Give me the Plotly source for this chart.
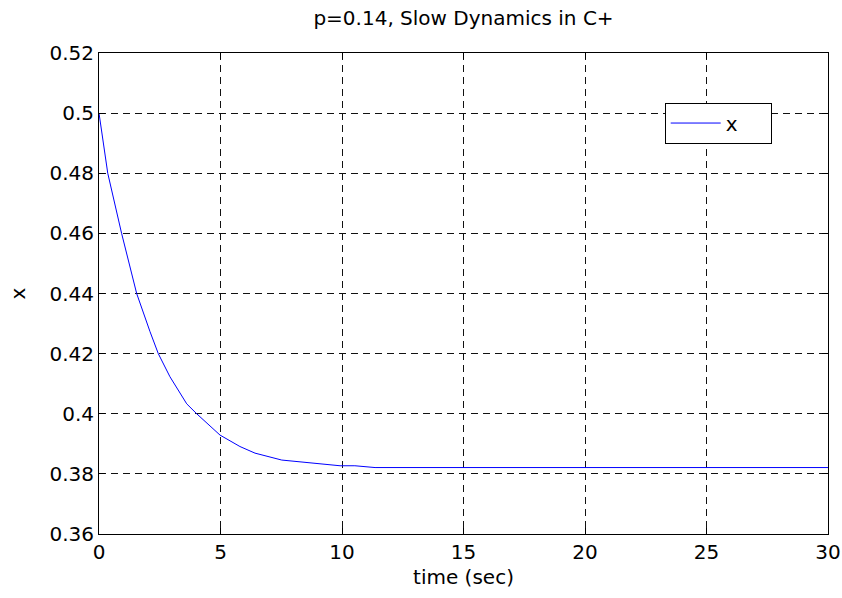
import plotly.graph_objects as go

# Data
t_sec = [0, 0.36, 0.93, 1.55, 2.10, 2.44, 2.92, 3.61, 4.02, 4.98, 5.80, 6.42, 7.52, 9.92, 10.53, 11.36, 30]
x_val = [0.5, 0.48, 0.46, 0.44, 0.4273, 0.42, 0.4123, 0.4033, 0.40, 0.3929, 0.3891, 0.3869, 0.3846, 0.3827, 0.3827, 0.3821, 0.3821]

x_ticks = [0, 5, 10, 15, 20, 25, 30]
y_ticks = [0.36, 0.38, 0.4, 0.42, 0.44, 0.46, 0.48, 0.5, 0.52]
y_tick_text = ["0.36", "0.38", "0.4", "0.42", "0.44", "0.46", "0.48", "0.5", "0.52"]

FONT = "DejaVu Sans, Arial, sans-serif"
FS = 20

fig = go.Figure()
fig.add_trace(go.Scatter(x=t_sec, y=x_val, mode="lines", name="x",
                         line=dict(color="#0000ff", width=1)))

axis_common = dict(
    showline=True, linecolor="black", linewidth=1, mirror="ticks",
    ticks="inside", ticklen=6, tickcolor="black", tickwidth=1,
    showgrid=True, gridcolor="#111111", gridwidth=1, griddash="7px,5px",
    zeroline=False, automargin=False,
    tickfont=dict(family=FONT, size=FS, color="black"),
)

fig.update_xaxes(range=[0, 30], tickvals=x_ticks,
                 title=dict(text="time (sec)", font=dict(family=FONT, size=FS, color="black"), standoff=6),
                 **axis_common)
fig.update_yaxes(range=[0.36, 0.52], tickvals=y_ticks, ticktext=y_tick_text,
                 title=dict(text="x", font=dict(family=FONT, size=FS, color="black"), standoff=18),
                 **axis_common)

fig.update_layout(
    width=842, height=598,
    margin=dict(l=99, r=14, t=53, b=64, autoexpand=False),
    paper_bgcolor="white", plot_bgcolor="white",
    title=dict(text="p=0.14, Slow Dynamics in C+", x=0.5505, xanchor="center",
               y=1 - 18 / 598, yanchor="middle",
               font=dict(family=FONT, size=FS, color="black")),
    showlegend=True,
    legend=dict(x=0.776, y=0.897, xanchor="left", yanchor="top",
                orientation="h",
                bgcolor="white", bordercolor="black", borderwidth=1,
                font=dict(family=FONT, size=FS, color="black"),
                itemwidth=50, entrywidth=40, entrywidthmode="pixels"),
)

fig.write_html("out.html")
